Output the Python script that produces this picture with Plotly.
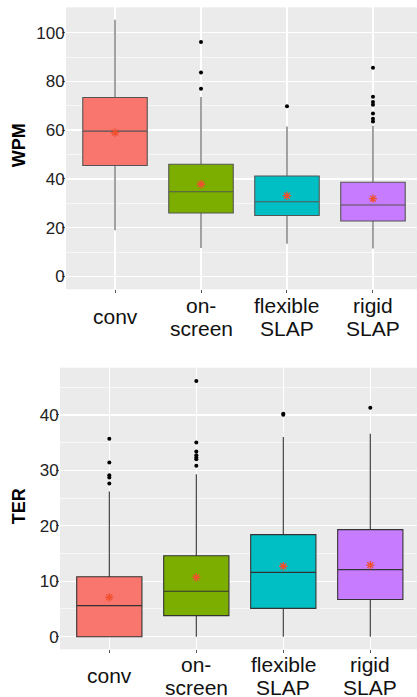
import plotly.graph_objects as go

# ---------------- data ----------------
categories = ["conv", "on-screen", "flexible SLAP", "rigid SLAP"]
tick_lines = [["conv"], ["on-", "screen"], ["flexible", "SLAP"], ["rigid", "SLAP"]]
fill_colors = ["#F8766D", "#7CAE00", "#00BFC4", "#C77CFF"]

# WPM panel
wpm_lower = [18.9, 11.6, 13.4, 11.4]
wpm_q1 = [45.5, 26.0, 25.0, 22.7]
wpm_median = [59.6, 34.7, 30.6, 29.3]
wpm_q3 = [73.4, 46.0, 41.2, 38.6]
wpm_upper = [105.3, 73.6, 61.5, 61.8]
wpm_mean = [59.0, 37.8, 33.1, 31.9]
wpm_outliers = [
    [],
    [96.2, 83.7, 77.0],
    [69.8],
    [85.6, 73.7, 71.5, 70.4, 66.8, 64.7, 63.5],
]
wpm_ticks = [0, 20, 40, 60, 80, 100]

# TER panel
ter_lower = [0.0, 0.0, 0.0, 0.0]
ter_q1 = [0.0, 3.8, 5.1, 6.7]
ter_median = [5.6, 8.2, 11.6, 12.1]
ter_q3 = [10.8, 14.6, 18.4, 19.3]
ter_upper = [26.2, 29.3, 36.0, 36.6]
ter_mean = [7.1, 10.7, 12.7, 12.9]
ter_outliers = [
    [35.7, 31.4, 29.1, 28.7, 27.6],
    [46.1, 35.0, 33.4, 32.7, 32.3, 32.0, 30.8],
    [40.2, 40.0],
    [41.3],
]
ter_ticks = [0, 10, 20, 30, 40]

# ---------------- figure ----------------
W, H = 417, 697
FONT = "Liberation Sans, Arial, Helvetica, sans-serif"
MEAN_COL = "#F0502D"
fig = go.Figure()


def add_panel(xa, ya, lower, q1, med, q3, upper, mean, outliers, line_col):
    for i, cat in enumerate(categories):
        fig.add_trace(go.Box(
            x=[cat], q1=[q1[i]], median=[med[i]], q3=[q3[i]],
            lowerfence=[lower[i]], upperfence=[upper[i]],
            fillcolor=fill_colors[i], line=dict(color=line_col, width=1.1),
            whiskerwidth=0, width=0.75, boxpoints=False,
            xaxis=xa, yaxis=ya, showlegend=False, hoverinfo="skip",
        ))
    ox, oy = [], []
    for i, cat in enumerate(categories):
        for v in outliers[i]:
            ox.append(cat)
            oy.append(v)
    fig.add_trace(go.Scatter(
        x=ox, y=oy, mode="markers", xaxis=xa, yaxis=ya,
        marker=dict(color="black", size=4), showlegend=False, hoverinfo="skip",
    ))
    fig.add_trace(go.Scatter(
        x=categories, y=mean, mode="markers", xaxis=xa, yaxis=ya,
        marker=dict(symbol="asterisk-open", size=7, color=MEAN_COL,
                    line=dict(color=MEAN_COL, width=1.3)),
        showlegend=False, hoverinfo="skip",
    ))


add_panel("x", "y", wpm_lower, wpm_q1, wpm_median, wpm_q3, wpm_upper,
          wpm_mean, wpm_outliers, "#555555")
add_panel("x2", "y2", ter_lower, ter_q1, ter_median, ter_q3, ter_upper,
          ter_mean, ter_outliers, "#333333")

xcommon = dict(type="category", categoryorder="array", categoryarray=categories,
               showticklabels=False, ticks="outside", ticklen=3,
               tickcolor="#555555", showgrid=True, gridcolor="white",
               gridwidth=1.3, zeroline=False, showline=False, fixedrange=True)
ycommon = dict(ticks="outside", ticklen=3, tickcolor="#555555",
               showgrid=True, gridcolor="white", gridwidth=1.3,
               zeroline=False, showline=False, ticklabelstandoff=-6,
               tickfont=dict(family=FONT, size=17, color="#222222"))

fig.update_layout(
    width=W, height=H,
    margin=dict(l=0, r=0, t=0, b=0),
    paper_bgcolor="white", plot_bgcolor="#EBEBEB",
    boxmode="overlay",
    xaxis=dict(domain=[66 / W, 1], range=[-0.570, 3.512], anchor="y", **xcommon),
    yaxis=dict(domain=[(H - 289.3) / H, (H - 7.3) / H], range=[-5.3, 110.4],
               anchor="x", tickvals=wpm_ticks,
               minor=dict(dtick=10, tick0=0, showgrid=True, gridcolor="white",
                          gridwidth=0.6, ticks=""),
               **ycommon),
    xaxis2=dict(domain=[60 / W, 1], range=[-0.567, 3.537], anchor="y2", **xcommon),
    yaxis2=dict(domain=[(H - 649.3) / H, (H - 367.7) / H], range=[-2.27, 48.5],
                anchor="x2", tickvals=ter_ticks,
                minor=dict(dtick=5, tick0=0, showgrid=True, gridcolor="white",
                           gridwidth=0.6, ticks=""),
                **ycommon),
)

annotations = []
LINE_H = 22.7
for xa, yd, center in (("x", "y domain", 27.5), ("x2", "y2 domain", 26.5)):
    for cat, lines in zip(categories, tick_lines):
        n = len(lines)
        for j, txt in enumerate(lines):
            off = center + (j - (n - 1) / 2) * LINE_H
            annotations.append(dict(
                x=cat, xref=xa, y=0, yref=yd, yanchor="middle", xanchor="center",
                yshift=-off, text=txt, showarrow=False,
                font=dict(family=FONT, size=21, color="#111111"),
            ))

annotations.append(dict(x=19.3 / W, xref="paper", y=(H - 145) / H, yref="paper",
                        text="<b>WPM</b>", textangle=-90, showarrow=False,
                        xanchor="center", yanchor="middle",
                        font=dict(family=FONT, size=18, color="black")))
annotations.append(dict(x=19.3 / W, xref="paper", y=(H - 506) / H, yref="paper",
                        text="<b>TER</b>", textangle=-90, showarrow=False,
                        xanchor="center", yanchor="middle",
                        font=dict(family=FONT, size=18, color="black")))
fig.update_layout(annotations=annotations)

fig.write_html(
    "out.html",
    config={"displayModeBar": False, "staticPlot": True},
    post_script="document.body.style.margin='0';document.body.style.overflow='hidden';",
)
